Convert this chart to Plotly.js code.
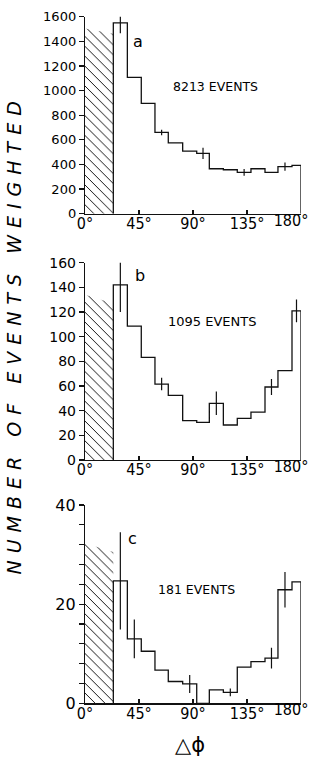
<!DOCTYPE html>
<html><head><meta charset="utf-8">
<script src="https://cdn.plot.ly/plotly-3.0.1.min.js"></script>
<style>
html,body{margin:0;padding:0;background:#fff;}
#chart{width:311px;height:759px;}
.annotation[data-index="0"] text{letter-spacing:7px;}
</style></head><body><div id="chart"></div>
<script>
// bin edges (degrees) of the histogram
const binEdges = [23.6, 35.3, 46.9, 58.3, 69.4, 81.4, 93.1, 103.6, 115.3, 126.9, 138.3, 150.0, 160.8, 172.5, 180];
// panel a
const countsA = [1550, 1107, 896, 660, 576, 509, 490, 365, 357, 336, 365, 336, 382, 392];
const errorsA = [84, null, null, 22, null, null, 45, null, null, 28, null, null, 34, null];
// panel b
const countsB = [142, 108.6, 83.2, 61.6, 52.4, 32, 30.5, 46, 28.4, 33.8, 38.9, 59.2, 72.4, 121];
const errorsB = [22, null, null, 5, null, null, null, 9.5, null, null, null, 6.4, null, 9.2];
// panel c
const countsC = [24.7, 13.0, 10.5, 6.7, 4.4, 3.9, 0, 2.7, 2.2, 7.3, 8.4, 9.1, 22.9, 24.5];
const errorsC = [9.8, 3.9, null, null, null, 1.8, null, null, 0.8, null, null, 2.1, 3.6, null];
// hatched (excluded) region: x span and top heights at its left/right ends
const hatchX = [0, 23.6];
const hatchA = [1505, 1462];
const hatchB = [134, 127];
const hatchC = [32.3, 30.5];
// texts
const eventLabels = ['8213 EVENTS', '1095 EVENTS', '181 EVENTS'];
const panelLetters = ['a', 'b', 'c'];
const xTickVals = [0, 45, 90, 135, 180];
const xTickText = ['0°', '45°', '90°', '135°', ''];
const xLastTickVal = [180];
const xLastTickText = ['180°'];
const yTickValsA = [0, 200, 400, 600, 800, 1000, 1200, 1400, 1600];
const yTickValsB = [0, 20, 40, 60, 80, 100, 120, 140, 160];
const yTickValsC = [0, 4, 8, 12, 16, 20, 24, 28, 32, 36, 40];
const yTickTextC = ['0', '', '', '', '', '20', '', '', '', '', '40'];
const yTitle = 'NUMBER OF EVENTS WEIGHTED';
const xTitle = '△ϕ';

const LINE = '#111';
const tickFontX = 'DejaVu Sans Condensed, DejaVu Sans, sans-serif';

function histTrace(counts, xa, ya) {
  const x = [binEdges[0]].concat(binEdges);
  const y = [0].concat(counts, [0]);
  return {x, y, xaxis: xa, yaxis: ya, type: 'scatter', mode: 'lines',
    line: {shape: 'hv', color: LINE, width: 1.3}, hoverinfo: 'skip', cliponaxis: false};
}
function errTrace(counts, errs, xa, ya) {
  const x = [], y = [], e = [];
  errs.forEach((v, i) => { if (v !== null) { x.push((binEdges[i] + binEdges[i+1]) / 2); y.push(counts[i]); e.push(v); } });
  return {x, y, xaxis: xa, yaxis: ya, type: 'scatter', mode: 'markers',
    marker: {size: 1, color: 'rgba(0,0,0,0)'}, cliponaxis: false,
    error_y: {type: 'data', array: e, visible: true, color: LINE, thickness: 1.2, width: 0}, hoverinfo: 'skip'};
}
function hatchTrace(tops, xa, ya) {
  return {x: [hatchX[0], hatchX[0], hatchX[1], hatchX[1]], y: [0, tops[0], tops[1], 0],
    xaxis: xa, yaxis: ya, type: 'scatter', mode: 'lines', fill: 'toself',
    fillcolor: 'rgba(0,0,0,0)', line: {width: 0, color: 'rgba(0,0,0,0)'},
    fillpattern: {shape: '\\', fgcolor: LINE, bgcolor: '#fff', size: 7, solidity: 0.14},
    hoverinfo: 'skip'};
}
function emptyTrace(xa, ya) {
  return {x: [], y: [], xaxis: xa, yaxis: ya, type: 'scatter', mode: 'markers', hoverinfo: 'skip'};
}

const data = [
  hatchTrace(hatchA, 'x', 'y'), histTrace(countsA, 'x', 'y'), errTrace(countsA, errorsA, 'x', 'y'),
  hatchTrace(hatchB, 'x2', 'y2'), histTrace(countsB, 'x2', 'y2'), errTrace(countsB, errorsB, 'x2', 'y2'),
  hatchTrace(hatchC, 'x3', 'y3'), histTrace(countsC, 'x3', 'y3'), errTrace(countsC, errorsC, 'x3', 'y3'),
  emptyTrace('x4', 'y'), emptyTrace('x5', 'y2'), emptyTrace('x6', 'y3')
];

const xDom = [85/311, 301/311];
function xAxis(anchor) {
  return {domain: xDom, range: [0, 180], anchor: anchor, tickmode: 'array', tickvals: xTickVals, ticktext: xTickText,
    ticks: 'inside', ticklen: 4, tickwidth: 1.2, tickcolor: LINE, showline: true, linecolor: LINE, linewidth: 1.2,
    showgrid: false, zeroline: false, ticklabelstandoff: -5,
    tickfont: {family: tickFontX, size: 16, color: '#000'}, fixedrange: true};
}
function xLastAxis(over, anchor) {
  return {domain: xDom, range: [0, 180], overlaying: over, anchor: anchor, side: 'bottom', tickmode: 'array',
    tickvals: xLastTickVal, ticktext: xLastTickText, ticks: '', showline: false, showgrid: false, zeroline: false,
    ticklabelstandoff: -5, ticklabelshift: -10,
    tickfont: {family: tickFontX, size: 16, color: '#000'}, fixedrange: true};
}
function yAxis(anchor, dom, range, vals, text, size) {
  const a = {domain: dom, range: range, anchor: anchor, tickmode: 'array', tickvals: vals,
    ticks: 'outside', ticklen: 5, tickwidth: 1.2, tickcolor: LINE, showline: true, linecolor: LINE, linewidth: 1.2,
    showgrid: false, zeroline: false, tickfont: {family: 'DejaVu Sans, sans-serif', size: size, color: '#000'}, fixedrange: true};
  if (text) a.ticktext = text;
  return a;
}

const ann = [
  {text: yTitle, xref: 'paper', yref: 'paper', x: 14/311, y: 1 - 335/759, xanchor: 'center', yanchor: 'middle',
   textangle: -90, showarrow: false,
   font: {family: 'DejaVu Sans, sans-serif', size: 19, style: 'italic', color: '#000'}},
  {text: xTitle, xref: 'paper', yref: 'paper', x: 190/311, y: 1 - 745/759, xanchor: 'center', yanchor: 'middle', showarrow: false,
   font: {family: 'DejaVu Sans, sans-serif', size: 21, color: '#000'}},
  {text: panelLetters[0], xref: 'x', yref: 'y', x: 44.4, y: 1396, showarrow: false, font: {family: 'DejaVu Sans, sans-serif', size: 16, color: '#000'}},
  {text: panelLetters[1], xref: 'x2', yref: 'y2', x: 45.8, y: 150, showarrow: false, font: {family: 'DejaVu Sans, sans-serif', size: 16, color: '#000'}},
  {text: panelLetters[2], xref: 'x3', yref: 'y3', x: 39.7, y: 33.3, showarrow: false, font: {family: 'DejaVu Sans, sans-serif', size: 16, color: '#000'}},
  {text: eventLabels[0], xref: 'x', yref: 'y', x: 108.6, y: 1036, showarrow: false, font: {family: 'DejaVu Sans, sans-serif', size: 12.5, color: '#000'}},
  {text: eventLabels[1], xref: 'x2', yref: 'y2', x: 106.1, y: 112, showarrow: false, font: {family: 'DejaVu Sans, sans-serif', size: 13, color: '#000'}},
  {text: eventLabels[2], xref: 'x3', yref: 'y3', x: 93.3, y: 23, showarrow: false, font: {family: 'DejaVu Sans, sans-serif', size: 12.5, color: '#000'}}
];

const layout = {
  width: 311, height: 759, margin: {l: 0, r: 0, t: 0, b: 0},
  paper_bgcolor: '#fff', plot_bgcolor: 'rgba(0,0,0,0)', showlegend: false,
  xaxis: xAxis('y'), xaxis2: xAxis('y2'), xaxis3: xAxis('y3'),
  xaxis4: xLastAxis('x', 'y'), xaxis5: xLastAxis('x2', 'y2'), xaxis6: xLastAxis('x3', 'y3'),
  yaxis: yAxis('x', [1 - 213.7/759, 1 - 16.7/759], [0, 1600], yTickValsA, null, 13),
  yaxis2: yAxis('x2', [1 - 460/759, 1 - 262.7/759], [0, 160], yTickValsB, null, 14),
  yaxis3: yAxis('x3', [1 - 703.3/759, 1 - 505/759], [0, 40], yTickValsC, yTickTextC, 16),
  annotations: ann
};

Plotly.newPlot('chart', data, layout, {staticPlot: true, displayModeBar: false});
</script></body></html>
